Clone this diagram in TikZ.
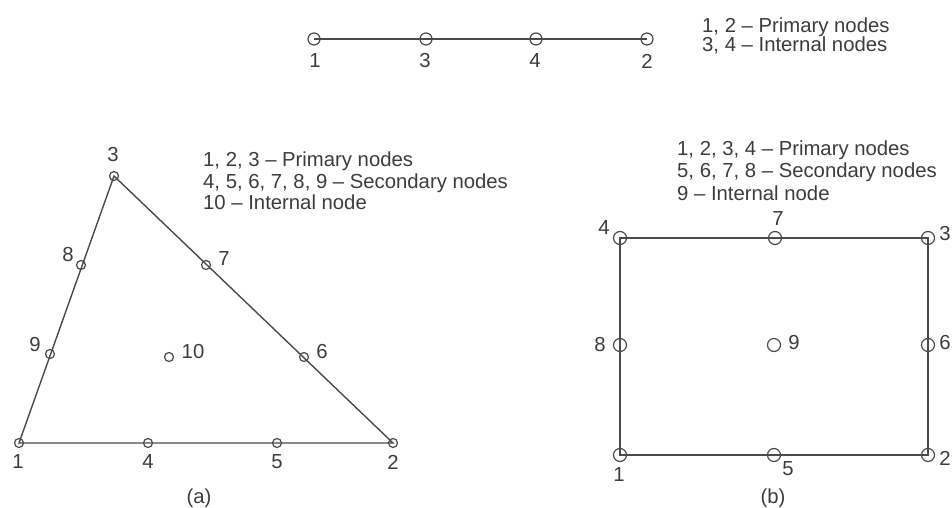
\documentclass[tikz,border=0pt]{standalone}
\usepackage{fontspec}
\setmainfont{Liberation Sans}
\definecolor{ink}{HTML}{4A4A4A}
\definecolor{txt}{HTML}{3C3C3C}
\begin{document}
\begin{tikzpicture}[x=1pt,y=-1pt,
  every node/.style={text=txt,font=\fontsize{20.3}{21}\selectfont},
  edge/.style={draw=ink,line width=1.4pt},
  dotS/.style={circle,draw=ink,line width=1.2pt,minimum size=9pt,inner sep=0pt},
  dotM/.style={circle,draw=ink,line width=1.2pt,minimum size=12pt,inner sep=0pt},
  dotL/.style={circle,draw=ink,line width=1.2pt,minimum size=13pt,inner sep=0pt},
  lab/.style={inner sep=0pt},
  leg/.style={anchor=base west,inner sep=0pt}]
\useasboundingbox (0,0) rectangle (952,508);

% ---- top line element
\coordinate (l1) at (314,39);
\coordinate (l3) at (426,39);
\coordinate (l4) at (536,39);
\coordinate (l2) at (647,39);
\draw[edge] (l1) -- (l2);
\foreach \n in {1,3,4,2} \node[dotM] (L\n) at (l\n) {};
\node[lab] (tl1) at (315,61) {1};
\node[lab] (tl3) at (425,61) {3};
\node[lab] (tl4) at (535,61) {4};
\node[lab] (tl2) at (647,61) {2};
\node[leg] (legl1) at (702,33) {1, 2 -- Primary nodes};
\node[leg] (legl2) at (702,52) {3, 4 -- Internal nodes};

% ---- triangle (a)
\coordinate (a1) at (19,443);
\coordinate (a2) at (393,443);
\coordinate (a3) at (114,176);
\coordinate (a4) at (148,443);
\coordinate (a5) at (277,443);
\coordinate (a6) at (304,357);
\coordinate (a7) at (206,265);
\coordinate (a8) at (81,265);
\coordinate (a9) at (50,354);
\coordinate (a10) at (169,357);
\draw[edge] (a1) -- (a2) -- (a3) -- cycle;
\foreach \n in {1,...,10} \node[dotS] (A\n) at (a\n) {};
\node[lab] (ta3) at (113,155) {3};
\node[lab] (ta8) at (68,255) {8};
\node[lab] (ta7) at (224,259) {7};
\node[lab] (ta9) at (35,345) {9};
\node[lab] (ta10) at (193,352) {10};
\node[lab] (ta6) at (322,352) {6};
\node[lab] (ta1) at (18,462) {1};
\node[lab] (ta4) at (148,462) {4};
\node[lab] (ta5) at (277,462) {5};
\node[lab] (ta2) at (393,462) {2};
\node[lab] (capa) at (199,498) {(a)};
\node[leg] (lega1) at (203,166) {1, 2, 3 -- Primary nodes};
\node[leg] (lega2) at (203,188) {4, 5, 6, 7, 8, 9 -- Secondary nodes};
\node[leg] (lega3) at (203,209) {10 -- Internal node};

% ---- rectangle (b)
\coordinate (b1) at (620,455);
\coordinate (b2) at (928,455);
\coordinate (b3) at (928,238);
\coordinate (b4) at (620,238);
\coordinate (b5) at (774,455);
\coordinate (b6) at (928,345);
\coordinate (b7) at (775,238);
\coordinate (b8) at (620,345);
\coordinate (b9) at (774,345);
\draw[edge] (b1) -- (b2) -- (b3) -- (b4) -- cycle;
\foreach \n in {1,...,9} \node[dotL] (B\n) at (b\n) {};
\node[lab] (tb4) at (604,228) {4};
\node[lab] (tb7) at (778,219) {7};
\node[lab] (tb3) at (945,234) {3};
\node[lab] (tb8) at (600,345) {8};
\node[lab] (tb9) at (794,343) {9};
\node[lab] (tb6) at (945,343) {6};
\node[lab] (tb1) at (619,475) {1};
\node[lab] (tb5) at (788,469) {5};
\node[lab] (tb2) at (945,458) {2};
\node[lab] (capb) at (773,498) {(b)};
\node[leg] (legb1) at (677,155) {1, 2, 3, 4 -- Primary nodes};
\node[leg] (legb2) at (677,177) {5, 6, 7, 8 -- Secondary nodes};
\node[leg] (legb3) at (677,200) {9 -- Internal node};
\end{tikzpicture}
\end{document}
